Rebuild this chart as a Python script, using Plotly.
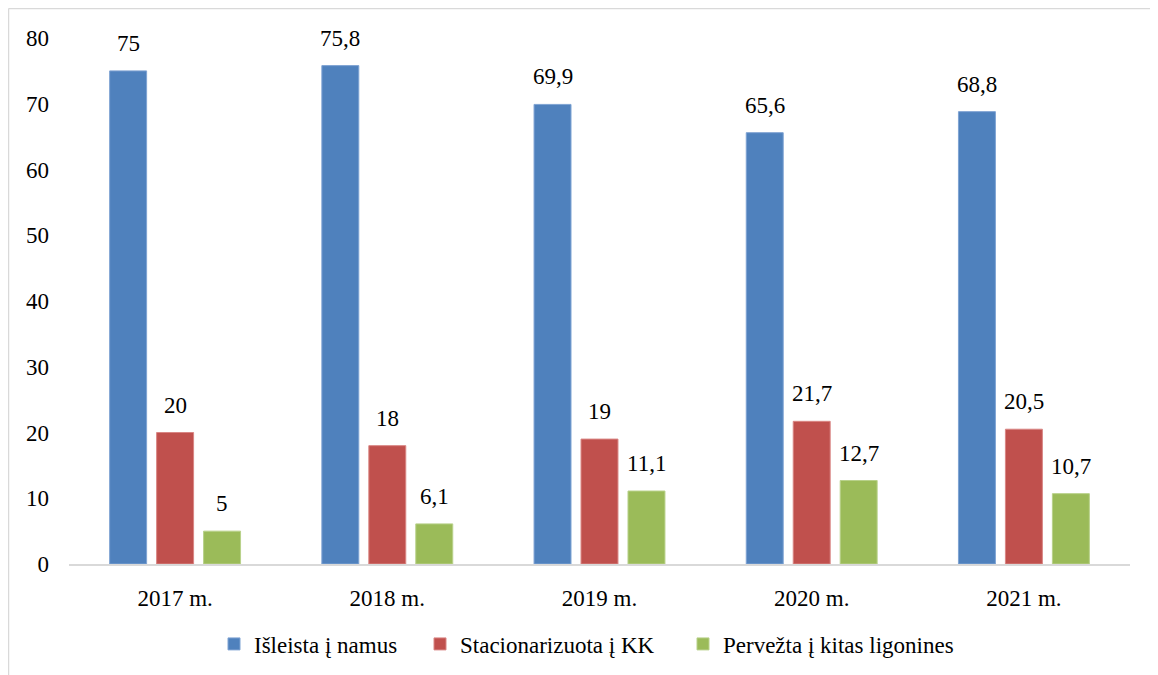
import plotly.graph_objects as go

# duomenys
years = ["2017 m.", "2018 m.", "2019 m.", "2020 m.", "2021 m."]
namus = [75, 75.8, 69.9, 65.6, 68.8]
kk = [20, 18, 19, 21.7, 20.5]
kitas = [5, 6.1, 11.1, 12.7, 10.7]

series_names = ["Išleista į namus", "Stacionarizuota į KK", "Pervežta į kitas ligonines"]
colors = ["#4F81BD", "#C0504D", "#9BBB59"]
edge_colors = ["#7FA3D3", "#D98684", "#B8D18A"]

font = "Liberation Serif, Times New Roman, serif"
fs = 23

# puslapis turi 8px paraštę, todėl viskas pastumta
ml, mt = 61, 30
plot_w, plot_h = 1061, 526


def fmt(v):
    return f"{v:g}".replace(".", ",")


def px_x(px):
    return (px - ml) / plot_w


fig = go.Figure()
legends = ["legend", "legend2", "legend3"]
for name, vals, col, edge, lg in zip(series_names, [namus, kk, kitas], colors, edge_colors, legends):
    fig.add_trace(go.Bar(
        x=years, y=vals, name=name, legend=lg,
        marker=dict(color=col, line=dict(color=edge, width=1)),
        cliponaxis=False,
    ))

# reikšmių etiketės virš stulpelių
shifts = [-47, 0, 47]
for vals, sh in zip([namus, kk, kitas], shifts):
    for yr, v in zip(years, vals):
        fig.add_annotation(x=yr, y=v, text=fmt(v), showarrow=False,
                           xshift=sh, yshift=13, yanchor="bottom",
                           font=dict(size=fs, color="black", family=font))

leg_common = dict(orientation="h", y=-0.152, yanchor="middle", xanchor="left",
                  font=dict(size=fs, family=font), bgcolor="rgba(0,0,0,0)")

fig.update_layout(
    width=1158, height=675,
    margin=dict(l=ml, r=1158 - ml - plot_w, t=mt, b=675 - mt - plot_h),
    plot_bgcolor="white", paper_bgcolor="white",
    font=dict(family=font, size=fs, color="black"),
    barmode="group", bargap=0.336, bargroupgap=0.213,
    showlegend=True,
    legend=dict(x=px_x(218 - 12), **leg_common),
    legend2=dict(x=px_x(424 - 12), **leg_common),
    legend3=dict(x=px_x(687 - 12), **leg_common),
    xaxis=dict(showgrid=False, showline=True, linecolor="#d9d9d9", linewidth=2,
               ticks="", tickfont=dict(size=fs), ticklabelstandoff=12, automargin=False),
    yaxis=dict(range=[0, 80], dtick=10, showgrid=False, zeroline=False, showline=False,
               ticks="", tickfont=dict(size=fs), ticklabelstandoff=19, automargin=False),
)

# rėmelis aplink diagramą
top = (plot_h + mt - 0.5) / plot_h
left = px_x(0.5)
fig.add_shape(type="line", xref="paper", yref="paper",
              x0=left, x1=1.2, y0=top, y1=top,
              line=dict(color="#d9d9d9", width=1.5))
fig.add_shape(type="line", xref="paper", yref="paper",
              x0=left, x1=left, y0=top, y1=-0.4,
              line=dict(color="#d9d9d9", width=1.5))

fig.write_html("out.html")
